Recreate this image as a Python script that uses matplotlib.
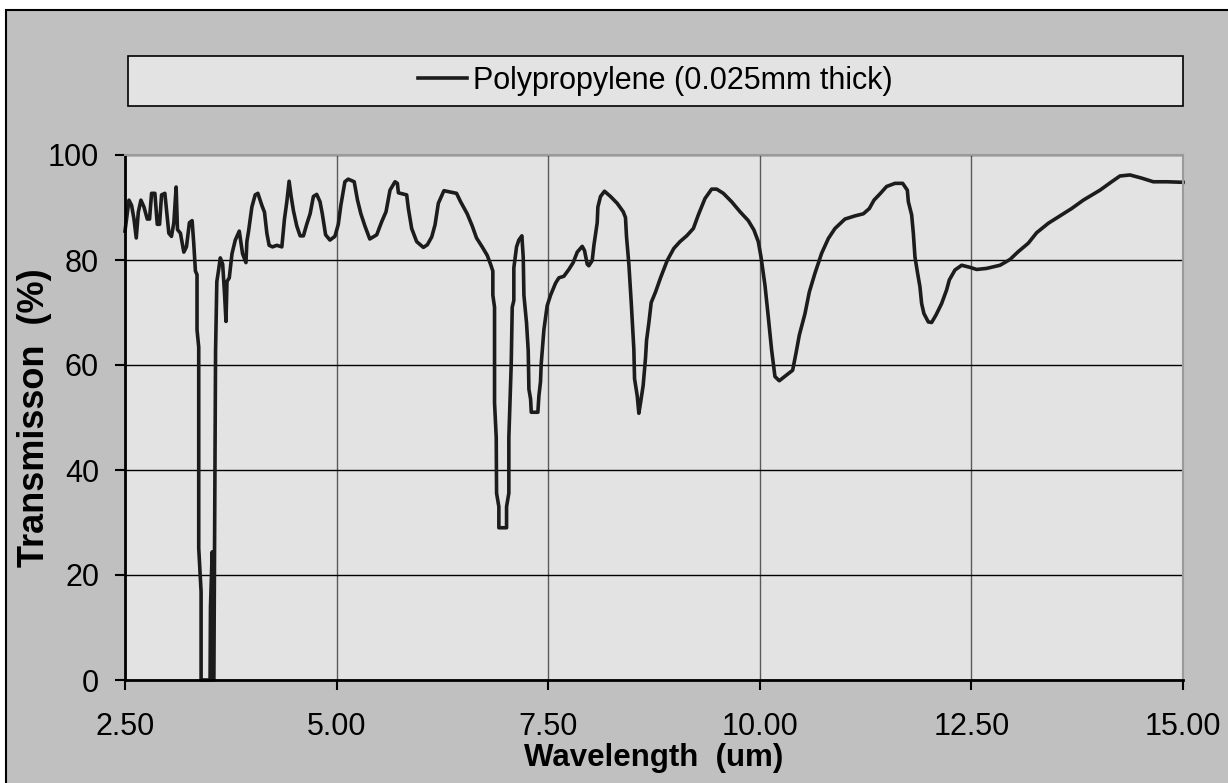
import numpy as np
import matplotlib.pyplot as plt
from matplotlib.patches import Rectangle

# IR transmission spectrum of a thin polypropylene film
wavelength = [
    2.500, 2.547, 2.578, 2.606, 2.633, 2.657, 2.688, 2.724, 2.763, 2.790,
    2.814, 2.853, 2.881, 2.908, 2.932, 2.971, 3.018, 3.049, 3.077, 3.104,
    3.120, 3.155, 3.195, 3.226, 3.261, 3.293, 3.312, 3.332, 3.351, 3.351,
    3.371, 3.371, 3.399, 3.399, 3.505, 3.510, 3.530, 3.537, 3.550, 3.560,
    3.570, 3.585, 3.605, 3.626, 3.654, 3.677, 3.693, 3.705, 3.732, 3.764,
    3.803, 3.850, 3.889, 3.929, 3.940, 3.960, 3.999, 4.038, 4.070, 4.117,
    4.148, 4.176, 4.203, 4.243, 4.294, 4.353, 4.384, 4.412, 4.439, 4.463,
    4.490, 4.529, 4.569, 4.608, 4.647, 4.687, 4.726, 4.765, 4.804, 4.831,
    4.870, 4.921, 4.980, 5.020, 5.050, 5.098, 5.137, 5.208, 5.247, 5.287,
    5.334, 5.392, 5.474, 5.533, 5.584, 5.631, 5.690, 5.718, 5.730, 5.828,
    5.848, 5.887, 5.946, 6.025, 6.072, 6.124, 6.163, 6.202, 6.268, 6.417,
    6.465, 6.543, 6.602, 6.653, 6.720, 6.779, 6.819, 6.846, 6.846, 6.866,
    6.866, 6.886, 6.890, 6.917, 6.917, 7.008, 7.008, 7.035, 7.035, 7.063,
    7.075, 7.094, 7.094, 7.126, 7.153, 7.189, 7.205, 7.213, 7.244, 7.264,
    7.272, 7.292, 7.300, 7.378, 7.390, 7.409, 7.417, 7.449, 7.488, 7.528,
    7.587, 7.626, 7.685, 7.744, 7.795, 7.843, 7.902, 7.929, 7.961, 7.980,
    8.020, 8.040, 8.079, 8.087, 8.118, 8.165, 8.236, 8.315, 8.386, 8.413,
    8.425, 8.453, 8.481, 8.512, 8.520, 8.552, 8.571, 8.591, 8.622, 8.650,
    8.662, 8.689, 8.717, 8.768, 8.827, 8.906, 8.984, 9.057, 9.136, 9.215,
    9.274, 9.352, 9.431, 9.490, 9.569, 9.667, 9.766, 9.864, 9.931, 9.982,
    10.014, 10.061, 10.100, 10.140, 10.179, 10.230, 10.317, 10.388, 10.427, 10.467,
    10.534, 10.585, 10.652, 10.731, 10.810, 10.888, 11.006, 11.124, 11.223, 11.294,
    11.349, 11.420, 11.498, 11.597, 11.688, 11.743, 11.755, 11.794, 11.814, 11.833,
    11.861, 11.892, 11.912, 11.939, 11.991, 12.030, 12.081, 12.148, 12.207, 12.239,
    12.306, 12.385, 12.483, 12.562, 12.680, 12.838, 12.956, 13.054, 13.172, 13.271,
    13.409, 13.546, 13.684, 13.822, 14.019, 14.157, 14.255, 14.373, 14.511, 14.649,
    14.807, 15.000,
]
transmission = [
    85.5, 91.4, 90.4, 87.8, 84.2, 89.1, 91.4, 90.1, 87.8, 87.8,
    92.7, 92.7, 86.8, 86.8, 92.4, 92.7, 85.1, 84.5, 87.1, 93.9,
    85.8, 85.1, 81.5, 82.5, 87.1, 87.5, 83.2, 77.9, 77.2, 66.7,
    63.4, 25.1, 16.8, 0.0, 0.0, 13.9, 24.4, 0.0, 0.0, 31.0,
    62.7, 75.9, 78.0, 80.4, 79.2, 73.3, 68.3, 75.9, 76.6, 81.2,
    83.8, 85.5, 81.2, 79.5, 83.5, 85.5, 90.1, 92.4, 92.7, 90.4,
    89.1, 85.1, 82.8, 82.5, 82.8, 82.5, 87.8, 91.1, 95.0, 92.1,
    89.4, 86.5, 84.6, 84.6, 86.8, 88.8, 92.1, 92.5, 91.1, 88.8,
    84.8, 83.8, 84.5, 86.8, 90.4, 94.9, 95.4, 94.9, 91.4, 88.8,
    86.5, 84.0, 84.8, 87.3, 89.2, 93.3, 94.9, 94.6, 92.8, 92.4,
    89.8, 86.0, 83.5, 82.4, 82.9, 84.4, 86.7, 90.8, 93.2, 92.7,
    91.1, 88.8, 86.5, 84.2, 82.5, 80.9, 79.2, 77.9, 73.3, 71.0,
    52.8, 46.2, 35.6, 33.0, 29.0, 29.0, 33.0, 35.6, 46.2, 60.1,
    71.0, 72.3, 78.5, 82.5, 83.8, 84.6, 80.5, 73.3, 68.0, 62.7,
    55.4, 53.5, 51.0, 51.0, 54.1, 56.8, 60.1, 66.7, 71.3, 73.3,
    75.6, 76.6, 76.9, 78.2, 79.5, 81.5, 82.6, 81.8, 79.2, 78.9,
    79.9, 82.8, 87.1, 90.1, 92.1, 93.1, 92.1, 90.8, 89.2, 88.1,
    84.5, 79.2, 71.9, 63.0, 57.4, 54.1, 50.8, 52.8, 56.1, 61.4,
    64.7, 68.0, 71.9, 73.9, 76.6, 79.9, 82.2, 83.5, 84.6, 86.0,
    88.6, 91.7, 93.5, 93.5, 92.7, 91.1, 89.2, 87.5, 85.7, 83.5,
    80.6, 75.2, 69.2, 62.8, 57.8, 57.0, 58.1, 59.0, 62.2, 65.7,
    69.8, 73.9, 77.5, 81.3, 84.1, 86.0, 87.8, 88.4, 88.8, 89.8,
    91.4, 92.6, 94.0, 94.6, 94.6, 93.3, 91.1, 88.6, 85.1, 80.6,
    77.8, 74.9, 71.7, 69.8, 68.2, 68.1, 69.5, 71.7, 74.3, 76.2,
    78.1, 79.0, 78.6, 78.2, 78.4, 79.0, 80.1, 81.6, 83.2, 85.2,
    87.0, 88.4, 89.8, 91.4, 93.3, 94.9, 96.0, 96.2, 95.6, 94.9,
    94.9, 94.8,
]
x_ticks = [2.5, 5.0, 7.5, 10.0, 12.5, 15.0]
y_ticks = [0, 20, 40, 60, 80, 100]
series_name = 'Polypropylene (0.025mm thick)'

plt.rcParams['font.family'] = ['Liberation Sans', 'DejaVu Sans']

fig = plt.figure(figsize=(12.28, 7.83), dpi=100, facecolor='white')
# grey chart area with black outline
fig.patches.append(Rectangle((6/1228, -0.01), 1.0, 1.01 - 10/783, transform=fig.transFigure,
                             facecolor='#c0c0c0', edgecolor='black', linewidth=1.5, zorder=-10))

ax = fig.add_axes([125/1228, 103/783, 1058/1228, 525/783])
ax.set_facecolor('#e3e3e3')

line, = ax.plot(wavelength, transmission, color='#1c1c1c', linewidth=2.6,
                solid_joinstyle='round', label=series_name, clip_on=False)

ax.set_xlim(2.5, 15.0)
ax.set_ylim(0, 100)
ax.set_xticks(x_ticks)
ax.set_xticklabels([f'{v:.2f}' for v in x_ticks])
ax.set_yticks(y_ticks)

ax.grid(axis='y', color='black', linewidth=1.0)
ax.grid(axis='x', color='#5a5a5a', linewidth=1.0)
ax.set_axisbelow(True)

for s in ['top', 'right']:
    ax.spines[s].set_color('#9a9a9a')
    ax.spines[s].set_linewidth(1.5)
for s in ['left', 'bottom']:
    ax.spines[s].set_color('black')
    ax.spines[s].set_linewidth(2.0)

ax.tick_params(axis='both', direction='out', length=7.2, width=1.5, labelsize=22, colors='black')
ax.tick_params(axis='x', pad=15.5)
ax.tick_params(axis='y', pad=11.5)

ax.set_xlabel('Wavelength  (um)', fontsize=22.5, fontweight='bold', labelpad=1)
ax.set_ylabel('Transmisson  (%)', fontsize=26, fontweight='bold')
ax.yaxis.set_label_coords(-0.069, 0.5)

# legend panel above the plot
fig.patches.append(Rectangle((128/1228, 1 - 106/783), 1055/1228, 50/783, transform=fig.transFigure,
                             facecolor='#e3e3e3', edgecolor='black', linewidth=1.2, zorder=-5))
fig.legend(handles=[line], loc='center', bbox_to_anchor=(655/1228, 1 - 81/783),
           frameon=False, fontsize=22, handlelength=1.6, handletextpad=0.2)

fig.savefig('out.png', dpi=100, facecolor=fig.get_facecolor())
